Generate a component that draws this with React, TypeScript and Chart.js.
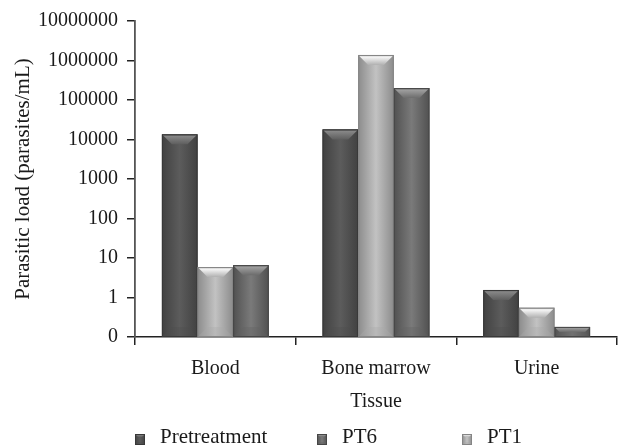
import React, { useEffect, useRef } from "react";
import { Chart, registerables } from "chart.js";

Chart.register(...registerables);

// ---- data ----
const CATEGORIES = ["Blood", "Bone marrow", "Urine"];
const SERIES_NAMES = ["Pretreatment", "PT1", "PT6"];
const PRETREATMENT = [13500, 18000, 1.55];
const PT1 = [5.9, 1380000, 0.55];
const PT6 = [6.6, 200000, 0.18];
const TICK_VALUES = [0.1, 1, 10, 100, 1000, 10000, 100000, 1000000, 10000000];
const TICK_LABELS = ["0", "1", "10", "100", "1000", "10000", "100000", "1000000", "10000000"];
const LEGEND_ORDER = ["Pretreatment", "PT6", "PT1"];
const Y_TITLE = "Parasitic load (parasites/mL)";
const X_TITLE = "Tissue";

type BarStyle = { edge: string; mid: string; bevelA: string; bevelB: string; bottom: string; border: string };
const STYLES: Record<string, BarStyle> = {
  Pretreatment: { edge: "#414141", mid: "#5c5c5c", bevelA: "#868686", bevelB: "#5e5e5e", bottom: "#4e4e4e", border: "#383838" },
  PT1: { edge: "#8c8c8c", mid: "#c2c2c2", bevelA: "#f6f6f6", bevelB: "#b0b0b0", bottom: "#a8a8a8", border: "#858585" },
  PT6: { edge: "#515151", mid: "#7a7a7a", bevelA: "#9e9e9e", bevelB: "#6c6c6c", bottom: "#626262", border: "#464646" },
};

const FONT = "'Liberation Serif', 'Times New Roman', serif";

function drawBevelBox(ctx: CanvasRenderingContext2D, left: number, top: number, right: number, bottom: number, st: BarStyle, bevelMax: number) {
  const w = right - left;
  const h = bottom - top;
  if (w <= 0 || h <= 0) return;
  const b = Math.min(bevelMax, w / 2, h / 2);
  ctx.save();
  const g = ctx.createLinearGradient(left, 0, right, 0);
  g.addColorStop(0, st.edge);
  g.addColorStop(0.5, st.mid);
  g.addColorStop(1, st.edge);
  ctx.fillStyle = g;
  ctx.fillRect(left, top, w, h);
  ctx.beginPath();
  ctx.moveTo(left, bottom);
  ctx.lineTo(left + b, bottom - b);
  ctx.lineTo(right - b, bottom - b);
  ctx.lineTo(right, bottom);
  ctx.closePath();
  ctx.fillStyle = st.bottom;
  ctx.globalAlpha = 0.35;
  ctx.fill();
  ctx.globalAlpha = 1;
  const tg = ctx.createLinearGradient(0, top, 0, top + b);
  tg.addColorStop(0, st.bevelB);
  tg.addColorStop(0.2, st.bevelA);
  tg.addColorStop(1, st.bevelB);
  ctx.beginPath();
  ctx.moveTo(left, top);
  ctx.lineTo(right, top);
  ctx.lineTo(right - b, top + b);
  ctx.lineTo(left + b, top + b);
  ctx.closePath();
  ctx.fillStyle = tg;
  ctx.fill();
  ctx.strokeStyle = st.border;
  ctx.lineWidth = 1;
  ctx.strokeRect(left + 0.5, top + 0.5, w - 1, h - 1);
  ctx.restore();
}

const bevelPlugin = {
  id: "bevelBars",
  afterDatasetsDraw(chart: any) {
    const ctx = chart.ctx as CanvasRenderingContext2D;
    const area = chart.chartArea;
    ctx.save();
    ctx.beginPath();
    ctx.rect(area.left, area.top - 2, area.right - area.left, area.bottom - area.top + 2);
    ctx.clip();
    chart.data.datasets.forEach((ds: any, i: number) => {
      const meta = chart.getDatasetMeta(i);
      const st = STYLES[ds.label];
      meta.data.forEach((el: any) => {
        const p = el.getProps(["x", "y", "base", "width"], true);
        drawBevelBox(ctx, p.x - p.width / 2, Math.min(p.y, p.base), p.x + p.width / 2, Math.max(p.y, p.base), st, 10);
      });
    });
    ctx.restore();
  },
};

const legendPlugin = {
  id: "customLegend",
  afterDraw(chart: any) {
    const ctx = chart.ctx as CanvasRenderingContext2D;
    const xs = [135, 317, 462];
    ctx.save();
    ctx.font = `21px ${FONT}`;
    ctx.fillStyle = "#1a1a1a";
    ctx.textBaseline = "alphabetic";
    ctx.textAlign = "left";
    LEGEND_ORDER.forEach((name, k) => {
      const x = xs[k];
      drawBevelBox(ctx, x, 434, x + 10, 445, STYLES[name], 3);
      ctx.fillText(name, x + 25, 443);
    });
    ctx.restore();
  },
};

export default function App() {
  const ref = useRef<HTMLCanvasElement | null>(null);
  useEffect(() => {
    if (!ref.current) return;
    const seriesValues = [PRETREATMENT, PT1, PT6];
    const chart = new Chart(ref.current, {
      type: "bar",
      data: {
        labels: CATEGORIES,
        datasets: SERIES_NAMES.map((name, i) => ({
          label: name,
          data: seriesValues[i],
          backgroundColor: STYLES[name].mid,
          borderWidth: 0,
          categoryPercentage: 0.665,
          barPercentage: 1,
        })),
      },
      options: {
        responsive: false,
        animation: false,
        layout: { padding: { left: 0, top: 21, right: 1, bottom: 33 } },
        plugins: { legend: { display: false }, tooltip: { enabled: false } },
        scales: {
          x: {
            grid: { drawOnChartArea: false, tickLength: 8, color: "#222", lineWidth: 1.5, offset: true },
            border: { color: "#222", width: 1.5 },
            ticks: { font: { family: FONT, size: 20 }, color: "#1a1a1a", padding: 12 },
            title: { display: true, text: X_TITLE, font: { family: FONT, size: 20 }, color: "#1a1a1a", padding: { top: 0, bottom: 0 } },
            afterFit: (s: any) => { s.height = 77; },
          },
          y: {
            type: "logarithmic",
            min: 0.1,
            max: 10000000,
            grid: { drawOnChartArea: false, tickLength: 8, color: "#222", lineWidth: 1.5 },
            border: { color: "#555", width: 1.8 },
            ticks: {
              font: { family: FONT, size: 20 },
              color: "#1a1a1a",
              padding: 9,
              autoSkip: false,
              callback: (v: any) => {
                const idx = TICK_VALUES.findIndex((t) => Math.abs(Math.log10(t) - Math.log10(Number(v))) < 1e-6);
                return idx >= 0 ? TICK_LABELS[idx] : "";
              },
            },
            afterBuildTicks: (s: any) => { s.ticks = TICK_VALUES.map((v) => ({ value: v })); },
            title: { display: true, text: Y_TITLE, font: { family: FONT, size: 21 }, color: "#1a1a1a", padding: { top: 11, bottom: 0 } },
            afterFit: (s: any) => { s.width = 135; },
          },
        },
      },
      plugins: [bevelPlugin, legendPlugin],
    } as any);
    return () => chart.destroy();
  }, []);
  return (
    <div style={{ position: "absolute", left: 0, top: 0, width: 618, height: 447, background: "#fff" }}>
      <canvas ref={ref} width={618} height={447} style={{ display: "block" }} />
    </div>
  );
}
